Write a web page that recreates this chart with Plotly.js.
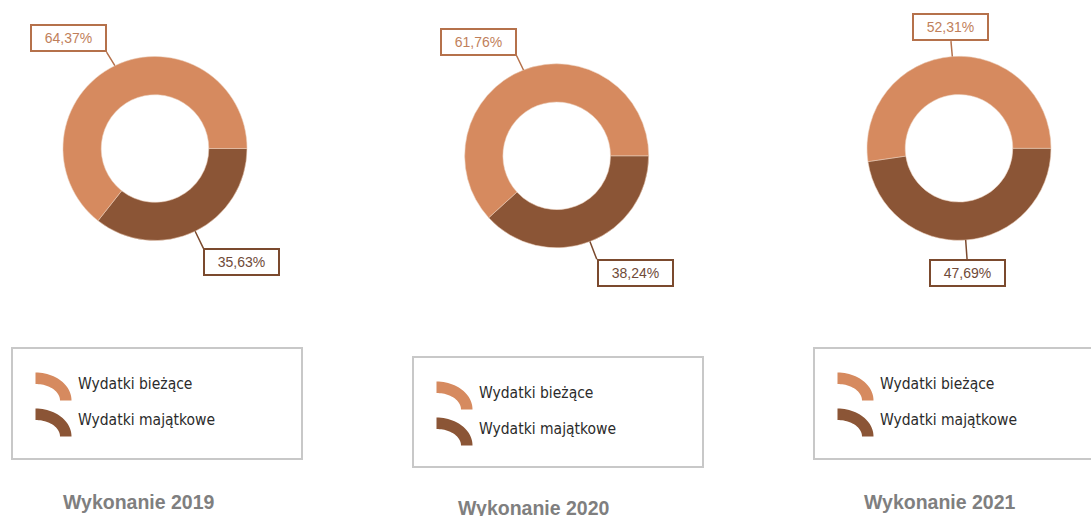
<!DOCTYPE html>
<html>
<head>
<meta charset="utf-8">
<script src="https://cdn.plot.ly/plotly-3.0.1.min.js"></script>
<style>html,body{margin:0;padding:0;background:#fff;}#chart{width:1091px;height:516px;}</style>
</head>
<body>
<div id="chart"></div>
<script>
// ---- data ----
const categories = ["Wydatki bieżące", "Wydatki majątkowe"];
const years = ["2019", "2020", "2021"];
const titles = ["Wykonanie 2019", "Wykonanie 2020", "Wykonanie 2021"];
const values2019 = [64.37, 35.63];
const values2020 = [61.76, 38.24];
const values2021 = [52.31, 47.69];
const seriesValues = [values2019, values2020, values2021];

// ---- style / layout config ----
const W = 1091, H = 516;
const sliceColors = ["#D68A5F", "#8B5536"];
const labelBorder = ["#B5714B", "#7B4A2E"];
const labelText = ["#BF7F5B", "#6F4A38"];
const panels = [
  {cx: 155, cy: 148.5, r: 92, box: [12, 348, 302, 459], titleX: 139, titleY: 501.5},
  {cx: 556.7, cy: 155.8, r: 92, box: [413, 357, 703, 467], titleX: 534, titleY: 508},
  {cx: 959, cy: 148.3, r: 92, box: [814, 348, 1094, 459], titleX: 940, titleY: 501.5}
];
const fx = x => x / W;
const fy = y => 1 - y / H;
const fmt = v => v.toFixed(2).replace('.', ',') + '%';

const traces = [];
const annotations = [];
const shapes = [];

function arcPath(x0, yb, rxo, ryo, thick) {
  const pts = [];
  const n = 24;
  for (let i = 0; i <= n; i++) {
    const t = (Math.PI / 2) * i / n;
    pts.push([x0 + rxo * Math.sin(t), yb - ryo * Math.cos(t)]);
  }
  const rxi = rxo - thick, ryi = ryo - thick;
  for (let i = n; i >= 0; i--) {
    const t = (Math.PI / 2) * i / n;
    pts.push([x0 + rxi * Math.sin(t), yb - ryi * Math.cos(t)]);
  }
  return 'M' + pts.map(p => fx(p[0]).toFixed(5) + ',' + fy(p[1]).toFixed(5)).join('L') + 'Z';
}

seriesValues.forEach((vals, k) => {
  const p = panels[k];
  // slices drawn clockwise from 3 o'clock in reverse order, so the first
  // category runs counterclockwise from 3 o'clock as in the original
  traces.push({
    type: 'pie',
    labels: categories.slice().reverse(),
    values: vals.slice().reverse(),
    hole: 0.585,
    sort: false,
    direction: 'clockwise',
    rotation: 90,
    textinfo: 'none',
    hoverinfo: 'label+percent',
    showlegend: false,
    marker: {colors: sliceColors.slice().reverse(), line: {color: 'rgba(235,205,185,0.9)', width: 0.6}},
    domain: {x: [fx(p.cx - p.r), fx(p.cx + p.r)], y: [fy(p.cy + p.r), fy(p.cy - p.r)]}
  });

  // value labels with leader lines, positioned from the data
  const total = vals.reduce((a, b) => a + b, 0);
  let cum = 0;
  vals.forEach((v, i) => {
    const mid = 2 * Math.PI * (cum + v / 2) / total; // counterclockwise from 3 o'clock
    cum += v;
    const c = Math.cos(mid), s = Math.sin(mid);
    const hx = p.cx + p.r * c, hy = p.cy - p.r * s;
    annotations.push({
      xref: 'paper', yref: 'paper',
      x: fx(hx), y: fy(hy),
      text: fmt(v),
      showarrow: true, arrowhead: 0, arrowwidth: 1.5, arrowcolor: labelBorder[i],
      ax: 19 * c, ay: -19 * s + (s > 0 ? 3.5 : 0),
      xanchor: Math.abs(c) < 0.2 ? 'center' : (c < 0 ? 'right' : 'left'),
      yanchor: s > 0 ? 'bottom' : 'top',
      font: {family: 'Liberation Sans, Arial, sans-serif', size: 14, color: labelText[i]},
      bordercolor: labelBorder[i], borderwidth: 2, borderpad: 1,
      bgcolor: '#ffffff', width: 71, height: 22, align: 'center', valign: 'middle'
    });
  });

  // legend box
  const b = p.box;
  shapes.push({type: 'rect', xref: 'paper', yref: 'paper',
    x0: fx(b[0]), x1: fx(b[2]), y0: fy(b[3]), y1: fy(b[1]),
    line: {color: '#C8C8C8', width: 2}, fillcolor: 'rgba(0,0,0,0)'});
  categories.forEach((cat, i) => {
    const yb = b[1] + 52.5 + 36 * i;
    shapes.push({type: 'path', xref: 'paper', yref: 'paper',
      path: arcPath(b[0] + 23.5, yb, 36, 28, 11.5),
      fillcolor: sliceColors[i], line: {width: 0}});
    annotations.push({
      xref: 'paper', yref: 'paper', x: fx(b[0] + 63.5), y: fy(b[1] + 35.5 + 36 * i),
      xanchor: 'left', yanchor: 'middle', showarrow: false, text: cat,
      font: {family: 'DejaVu Sans Condensed, DejaVu Sans, sans-serif', size: 15.5, color: '#2b2b2b'}
    });
  });

  annotations.push({
    xref: 'paper', yref: 'paper', x: fx(p.titleX), y: fy(p.titleY),
    xanchor: 'center', yanchor: 'middle', showarrow: false,
    text: '<b>' + titles[k] + '</b>',
    font: {family: 'Liberation Sans, Arial, sans-serif', size: 19.5, color: '#7F7F7F'}
  });
});

const layout = {
  width: W, height: H,
  margin: {l: 0, r: 0, t: 0, b: 0},
  paper_bgcolor: '#ffffff',
  showlegend: false,
  annotations: annotations,
  shapes: shapes
};
Plotly.newPlot('chart', traces, layout, {displayModeBar: false, staticPlot: true});
</script>
</body>
</html>
